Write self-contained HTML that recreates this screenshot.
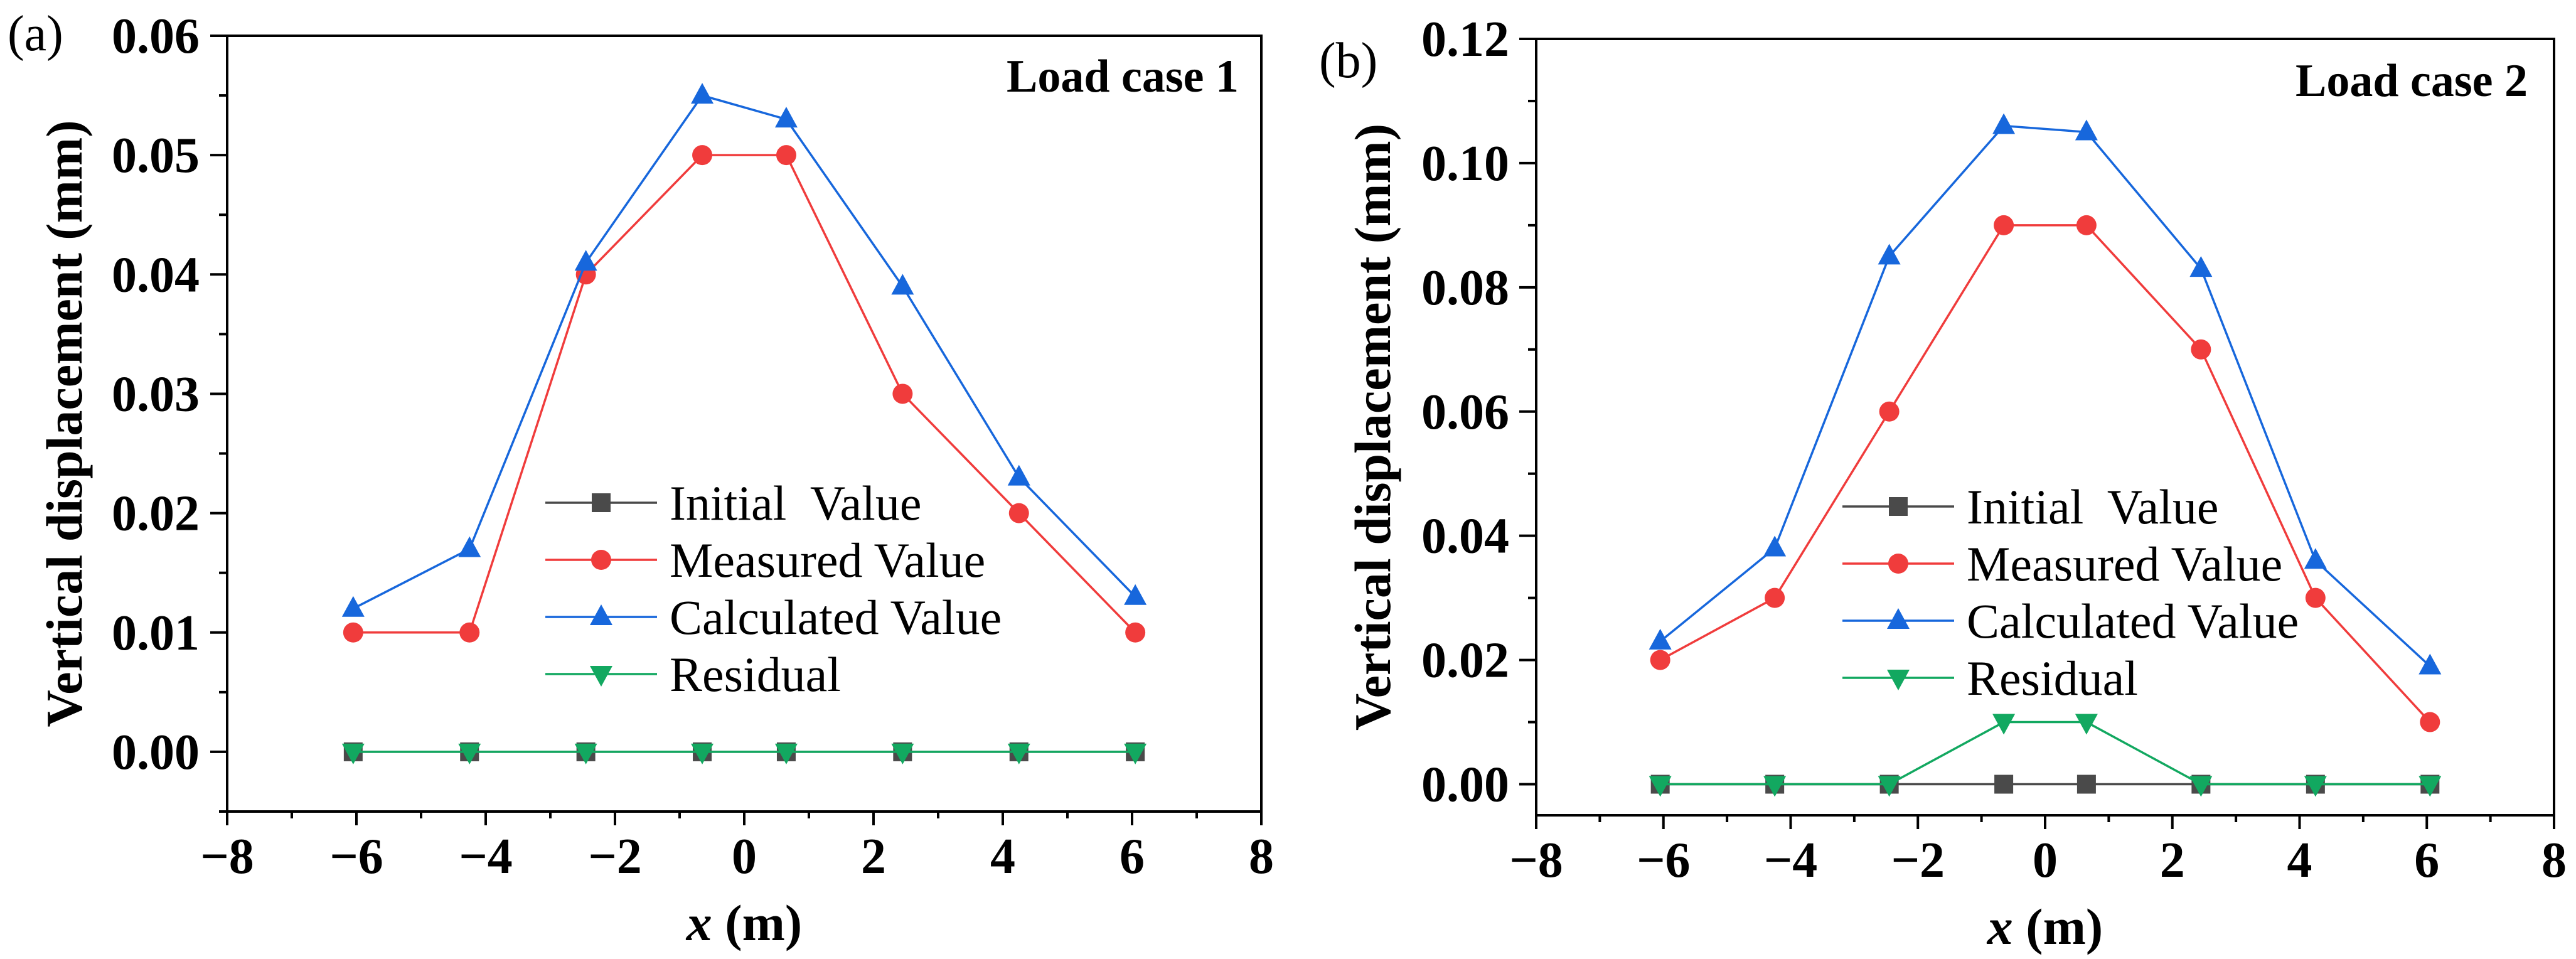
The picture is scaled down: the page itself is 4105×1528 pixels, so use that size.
<!DOCTYPE html>
<html><head><meta charset="utf-8"><style>
html,body{margin:0;padding:0;background:#fff;}
svg{display:block;font-family:"Liberation Serif","Times New Roman",serif;}
text{font-family:"Liberation Serif","Times New Roman",serif;white-space:pre;}
</style></head><body>
<svg id="chart" width="4105" height="1528" viewBox="0 0 4105 1528" xmlns="http://www.w3.org/2000/svg" font-family="Liberation Serif, serif"></svg>
<script>
const xVals = [-6.05, -4.25, -2.45, -0.65, 0.65, 2.45, 4.25, 6.05];
const initialA = [0, 0, 0, 0, 0, 0, 0, 0];
const measuredA = [0.01, 0.01, 0.04, 0.05, 0.05, 0.03, 0.02, 0.01];
const calculatedA = [0.012, 0.017, 0.041, 0.055, 0.053, 0.039, 0.023, 0.013];
const residualA = [0, 0, 0, 0, 0, 0, 0, 0];
const initialB = [0, 0, 0, 0, 0, 0, 0, 0];
const measuredB = [0.02, 0.03, 0.06, 0.09, 0.09, 0.07, 0.03, 0.01];
const calculatedB = [0.023, 0.038, 0.085, 0.106, 0.105, 0.083, 0.036, 0.019];
const residualB = [0, 0, 0, 0.01, 0.01, 0, 0, 0];
const xTicks = [-8, -6, -4, -2, 0, 2, 4, 6, 8];
const yTicksA = [0, 0.01, 0.02, 0.03, 0.04, 0.05, 0.06];
const yTicksB = [0, 0.02, 0.04, 0.06, 0.08, 0.10, 0.12];
const legendLabels = ["Initial  Value", "Measured Value", "Calculated Value", "Residual"];

const NS = "http://www.w3.org/2000/svg";
const svg = document.getElementById("chart");
const FF = "Liberation Serif, Times New Roman, serif";
function mk(tag, attrs, parent, txt) {
  const e = document.createElementNS(NS, tag);
  for (const k in attrs) e.setAttribute(k, attrs[k]);
  if (tag === "text") { e.setAttribute("font-family", FF); e.setAttributeNS("http://www.w3.org/XML/1998/namespace", "xml:space", "preserve"); }
  if (txt !== undefined) e.textContent = txt;
  (parent || svg).appendChild(e);
  return e;
}
const COLORS = ["#4a4a4a", "#f03c3c", "#1767dc", "#12a860"];

function marker(g, kind, cx, cy, color) {
  let m;
  if (kind === 0) m = mk("rect", {x: cx - 15, y: cy - 15, width: 30, height: 30, fill: color}, g);
  else if (kind === 1) m = mk("circle", {cx: cx, cy: cy, r: 16, fill: color}, g);
  else if (kind === 2) m = mk("polygon", {points: `${cx},${cy-20} ${cx+18},${cy+13} ${cx-18},${cy+13}`, fill: color}, g);
  else m = mk("polygon", {points: `${cx},${cy+20} ${cx+18},${cy-13} ${cx-18},${cy-13}`, fill: color}, g);
  return m;
}

function panel(cfg) {
  const {L, R, T, B, yMin, yMax, yTicks, series, tag, title, tagX, tagY, titleX, titleY, legX, legY, legDy, yTitleX, yLabelX, fmt} = cfg;
  const g = mk("g", {});
  
  
  const xs = v => L + (v + 8) / 16 * (R - L);
  const ys = v => B - (v - yMin) / (yMax - yMin) * (B - T);
  const frame = mk("rect", {x: L, y: T, width: R - L, height: B - T, fill: "none", stroke: "#000", "stroke-width": 4}, g);
  
  
  const xAxis = mk("g", {}, g);
  
  
  for (let v = -8; v <= 8; v++) {
    const major = v % 2 === 0;
    mk("line", {x1: xs(v), x2: xs(v), y1: B, y2: B + (major ? 22 : 11), stroke: "#000", "stroke-width": 4}, xAxis);
  }
  xTicks.forEach(v => {
    const t = mk("text", {x: xs(v), y: B + 98, "text-anchor": "middle", "font-size": 80, "font-weight": "bold"}, xAxis, (v < 0 ? "\u2212" : "") + Math.abs(v));
    
    
  });
  const xt = mk("text", {x: (L + R) / 2, y: B + 205, "text-anchor": "middle", "font-size": 82, "font-weight": "bold"}, xAxis);
  
  
  mk("tspan", {"font-style": "italic"}, xt, "x");
  mk("tspan", {}, xt, " (m)");
  const yAxis = mk("g", {}, g);
  
  
  const step = yTicks[1] - yTicks[0];
  const half = step / 2;
  const kStart = Math.ceil(yMin / half - 1e-6);
  const kEnd = Math.floor(yMax / half + 1e-6);
  for (let k = kStart; k <= kEnd; k++) {
    const v = k * half;
    const major = k % 2 === 0;
    mk("line", {x1: L, x2: L - (major ? 27 : 13), y1: ys(v), y2: ys(v), stroke: "#000", "stroke-width": 4}, yAxis);
  }
  yTicks.forEach(v => {
    const t = mk("text", {x: yLabelX, y: ys(v) + 27, "text-anchor": "end", "font-size": 80, "font-weight": "bold"}, yAxis, v.toFixed(fmt));
    
    
  });
  const yt = mk("text", {x: 0, y: 0, transform: `translate(${yTitleX},${(T + B) / 2}) rotate(-90)`, "text-anchor": "middle", "font-size": 82, "font-weight": "bold"}, yAxis, "Vertical displacement (mm)");
  
  
  const names = ["series-initial", "series-measured", "series-calculated", "series-residual"];
  series.forEach((vals, i) => {
    const sg = mk("g", {}, g);
    
    
    const pts = vals.map((v, j) => xs(xVals[j]) + "," + ys(v)).join(" ");
    mk("polyline", {points: pts, fill: "none", stroke: COLORS[i], "stroke-width": 3.5}, sg);
    vals.forEach((v, j) => {
      const m = marker(sg, i, xs(xVals[j]), ys(v), COLORS[i]);
      
      
    });
  });
  const lg = mk("g", {}, g);
  
  
  legendLabels.forEach((lab, i) => {
    const y = legY + i * legDy;
    const e = mk("g", {}, lg);
    
    
    mk("line", {x1: legX, x2: legX + 178, y1: y, y2: y, stroke: COLORS[i], "stroke-width": 3.5}, e);
    marker(e, i, legX + 89, y, COLORS[i]);
    mk("text", {x: legX + 198, y: y + 27, "font-size": 78}, e, lab);
  });
  const tg = mk("text", {x: tagX, y: tagY, "font-size": 80}, g, tag);
  
  
  const tt = mk("text", {x: titleX, y: titleY, "text-anchor": "end", "font-size": 74, "font-weight": "bold"}, g, title);
  
  
}

panel({name: "panel-a", L: 362, R: 2010, T: 57, B: 1293, yMin: -0.005, yMax: 0.06, yTicks: yTicksA,
  series: [initialA, measuredA, calculatedA, residualA], tag: "(a)", title: "Load case 1",
  tagX: 12, tagY: 80, titleX: 1974, titleY: 146, legX: 869, legY: 801, legDy: 91, yTitleX: 130, yLabelX: 318, fmt: 2});
panel({name: "panel-b", L: 2448, R: 4070, T: 62, B: 1299, yMin: -0.005, yMax: 0.12, yTicks: yTicksB,
  series: [initialB, measuredB, calculatedB, residualB], tag: "(b)", title: "Load case 2",
  tagX: 2102, tagY: 123, titleX: 4028, titleY: 153, legX: 2936, legY: 807, legDy: 91, yTitleX: 2215, yLabelX: 2405, fmt: 2});
</script>
</body></html>
